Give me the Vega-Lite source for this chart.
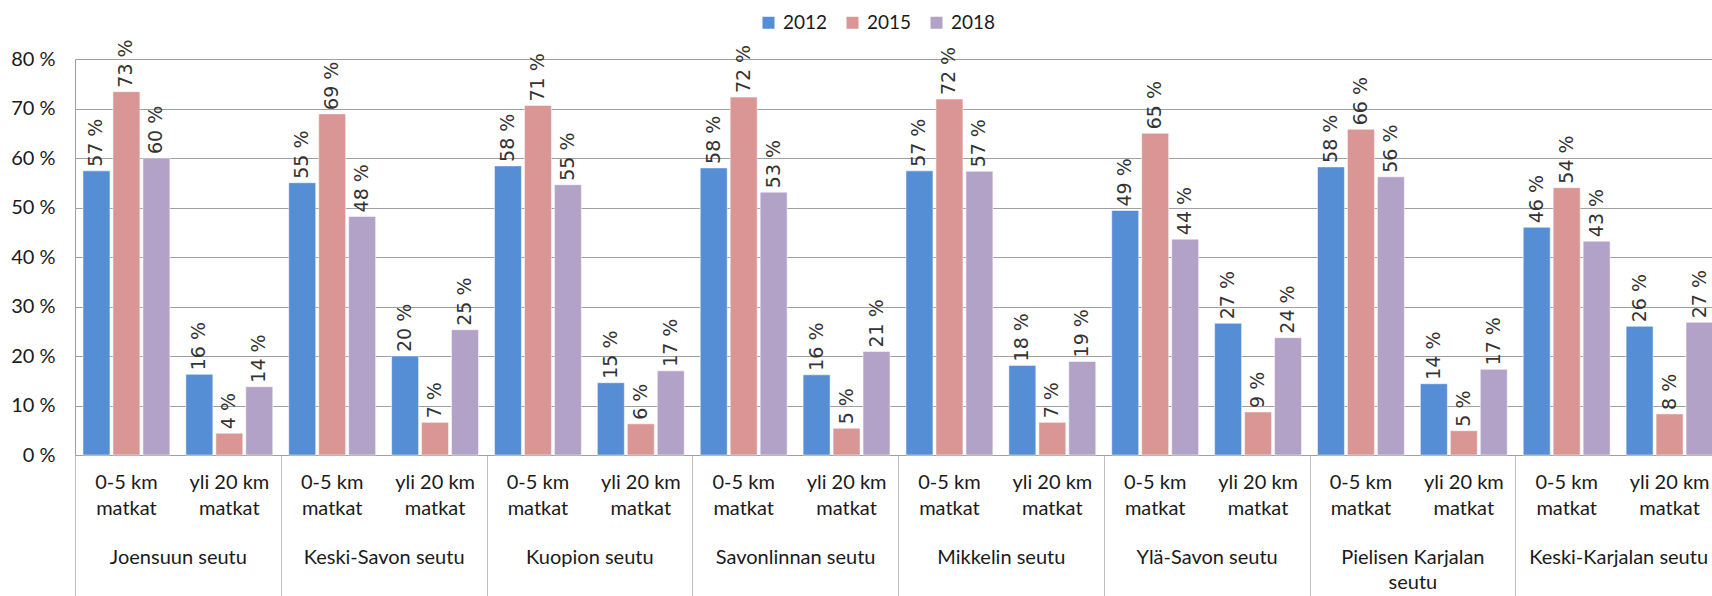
{
  "$schema": "https://vega.github.io/schema/vega-lite/v6.json",
  "width": 1637,
  "height": 396,
  "autosize": {"type": "none"},
  "padding": {"left": 75, "top": 59, "right": 0, "bottom": 141},
  "background": "white",
  "config": {"view": {"stroke": null}, "font": "Lato"},
  "data": {"values": [
    {"group": "Joensuun seutu", "slot": "Joensuun seutu|0-5", "year": "2012", "value": 57.4},
    {"group": "Joensuun seutu", "slot": "Joensuun seutu|0-5", "year": "2015", "value": 73.4},
    {"group": "Joensuun seutu", "slot": "Joensuun seutu|0-5", "year": "2018", "value": 60.0},
    {"group": "Joensuun seutu", "slot": "Joensuun seutu|yli20", "year": "2012", "value": 16.3},
    {"group": "Joensuun seutu", "slot": "Joensuun seutu|yli20", "year": "2015", "value": 4.4},
    {"group": "Joensuun seutu", "slot": "Joensuun seutu|yli20", "year": "2018", "value": 13.8},
    {"group": "Keski-Savon seutu", "slot": "Keski-Savon seutu|0-5", "year": "2012", "value": 55.0},
    {"group": "Keski-Savon seutu", "slot": "Keski-Savon seutu|0-5", "year": "2015", "value": 68.9},
    {"group": "Keski-Savon seutu", "slot": "Keski-Savon seutu|0-5", "year": "2018", "value": 48.2},
    {"group": "Keski-Savon seutu", "slot": "Keski-Savon seutu|yli20", "year": "2012", "value": 20.0},
    {"group": "Keski-Savon seutu", "slot": "Keski-Savon seutu|yli20", "year": "2015", "value": 6.6},
    {"group": "Keski-Savon seutu", "slot": "Keski-Savon seutu|yli20", "year": "2018", "value": 25.3},
    {"group": "Kuopion seutu", "slot": "Kuopion seutu|0-5", "year": "2012", "value": 58.4},
    {"group": "Kuopion seutu", "slot": "Kuopion seutu|0-5", "year": "2015", "value": 70.6},
    {"group": "Kuopion seutu", "slot": "Kuopion seutu|0-5", "year": "2018", "value": 54.6},
    {"group": "Kuopion seutu", "slot": "Kuopion seutu|yli20", "year": "2012", "value": 14.6},
    {"group": "Kuopion seutu", "slot": "Kuopion seutu|yli20", "year": "2015", "value": 6.3},
    {"group": "Kuopion seutu", "slot": "Kuopion seutu|yli20", "year": "2018", "value": 17.0},
    {"group": "Savonlinnan seutu", "slot": "Savonlinnan seutu|0-5", "year": "2012", "value": 58.0},
    {"group": "Savonlinnan seutu", "slot": "Savonlinnan seutu|0-5", "year": "2015", "value": 72.3},
    {"group": "Savonlinnan seutu", "slot": "Savonlinnan seutu|0-5", "year": "2018", "value": 53.1},
    {"group": "Savonlinnan seutu", "slot": "Savonlinnan seutu|yli20", "year": "2012", "value": 16.2},
    {"group": "Savonlinnan seutu", "slot": "Savonlinnan seutu|yli20", "year": "2015", "value": 5.4},
    {"group": "Savonlinnan seutu", "slot": "Savonlinnan seutu|yli20", "year": "2018", "value": 20.9},
    {"group": "Mikkelin seutu", "slot": "Mikkelin seutu|0-5", "year": "2012", "value": 57.4},
    {"group": "Mikkelin seutu", "slot": "Mikkelin seutu|0-5", "year": "2015", "value": 71.9},
    {"group": "Mikkelin seutu", "slot": "Mikkelin seutu|0-5", "year": "2018", "value": 57.3},
    {"group": "Mikkelin seutu", "slot": "Mikkelin seutu|yli20", "year": "2012", "value": 18.1},
    {"group": "Mikkelin seutu", "slot": "Mikkelin seutu|yli20", "year": "2015", "value": 6.6},
    {"group": "Mikkelin seutu", "slot": "Mikkelin seutu|yli20", "year": "2018", "value": 18.9},
    {"group": "Ylä-Savon seutu", "slot": "Ylä-Savon seutu|0-5", "year": "2012", "value": 49.4},
    {"group": "Ylä-Savon seutu", "slot": "Ylä-Savon seutu|0-5", "year": "2015", "value": 65.0},
    {"group": "Ylä-Savon seutu", "slot": "Ylä-Savon seutu|0-5", "year": "2018", "value": 43.6},
    {"group": "Ylä-Savon seutu", "slot": "Ylä-Savon seutu|yli20", "year": "2012", "value": 26.6},
    {"group": "Ylä-Savon seutu", "slot": "Ylä-Savon seutu|yli20", "year": "2015", "value": 8.7},
    {"group": "Ylä-Savon seutu", "slot": "Ylä-Savon seutu|yli20", "year": "2018", "value": 23.7},
    {"group": "Pielisen Karjalan seutu", "slot": "Pielisen Karjalan seutu|0-5", "year": "2012", "value": 58.2},
    {"group": "Pielisen Karjalan seutu", "slot": "Pielisen Karjalan seutu|0-5", "year": "2015", "value": 65.8},
    {"group": "Pielisen Karjalan seutu", "slot": "Pielisen Karjalan seutu|0-5", "year": "2018", "value": 56.2},
    {"group": "Pielisen Karjalan seutu", "slot": "Pielisen Karjalan seutu|yli20", "year": "2012", "value": 14.4},
    {"group": "Pielisen Karjalan seutu", "slot": "Pielisen Karjalan seutu|yli20", "year": "2015", "value": 4.9},
    {"group": "Pielisen Karjalan seutu", "slot": "Pielisen Karjalan seutu|yli20", "year": "2018", "value": 17.3},
    {"group": "Keski-Karjalan seutu", "slot": "Keski-Karjalan seutu|0-5", "year": "2012", "value": 46.0},
    {"group": "Keski-Karjalan seutu", "slot": "Keski-Karjalan seutu|0-5", "year": "2015", "value": 54.0},
    {"group": "Keski-Karjalan seutu", "slot": "Keski-Karjalan seutu|0-5", "year": "2018", "value": 43.2},
    {"group": "Keski-Karjalan seutu", "slot": "Keski-Karjalan seutu|yli20", "year": "2012", "value": 26.0},
    {"group": "Keski-Karjalan seutu", "slot": "Keski-Karjalan seutu|yli20", "year": "2015", "value": 8.3},
    {"group": "Keski-Karjalan seutu", "slot": "Keski-Karjalan seutu|yli20", "year": "2018", "value": 26.8}
  ]},
  "layer": [
    {
      "layer": [
        {
          "mark": {"type": "bar", "stroke": "#ffffff", "strokeWidth": 1, "strokeOpacity": 0.5},
          "encoding": {
            "x": {
              "field": "slot", "type": "nominal", "sort": null,
              "scale": {"range": [0, 1646], "paddingInner": 0, "paddingOuter": 0},
              "axis": {
                "title": null, "domain": false, "ticks": false, "grid": false,
                "labelAngle": 0, "labelPadding": 17, "labelFontSize": 20, "labelLineHeight": 26,
                "labelColor": "#1a1a1a", "labelFont": "Lato", "labelBaseline": "top",
                "labelExpr": "indexof(datum.value, '|yli') >= 0 ? ['yli 20 km', 'matkat'] : ['0-5 km', 'matkat']"
              }
            },
            "xOffset": {"field": "year", "type": "nominal", "scale": {"paddingInner": 0.1, "paddingOuter": 0.267}},
            "y": {
              "field": "value", "type": "quantitative",
              "scale": {"domain": [0, 80]},
              "axis": {
                "title": null, "values": [0, 10, 20, 30, 40, 50, 60, 70, 80],
                "labelExpr": "datum.value + ' %'", "grid": true, "gridColor": "#a0a0a0",
                "domain": true, "domainColor": "#a0a0a0", "ticks": false, "labelPadding": 20,
                "labelFontSize": 20, "labelColor": "#1a1a1a", "labelFont": "Lato"
              }
            },
            "color": {
              "field": "year", "type": "nominal",
              "scale": {"domain": ["2012", "2015", "2018"], "range": ["#558ED5", "#D99694", "#B3A2C7"]},
              "legend": {
                "orient": "none", "legendX": 684, "legendY": -46, "direction": "horizontal",
                "title": null, "symbolType": "square", "symbolSize": 144, "symbolStrokeWidth": 0,
                "labelFontSize": 19, "labelOffset": 5, "columnPadding": 15, "labelColor": "#1a1a1a",
                "labelFont": "Lato"
              }
            }
          }
        },
        {
          "mark": {
            "type": "text", "angle": 270, "align": "left", "baseline": "middle", "dx": 4,
            "font": "DejaVu Sans", "fontSize": 19, "fill": "#333333",
            "text": {"expr": "format(datum.value, '.0f') + ' %'"}
          },
          "encoding": {
            "x": {"field": "slot", "type": "nominal", "sort": null},
            "xOffset": {"field": "year", "type": "nominal"},
            "y": {"field": "value", "type": "quantitative"}
          }
        }
      ]
    },
    {
      "mark": {"type": "tick", "opacity": 0},
      "encoding": {
        "x": {
          "field": "group", "type": "nominal", "sort": null,
          "scale": {"range": [0, 1646], "paddingInner": 0, "paddingOuter": 0},
          "axis": {
            "title": null, "orient": "bottom", "domain": true, "domainColor": "#a0a0a0",
            "ticks": true, "tickBand": "extent", "tickSize": 141, "tickColor": "#bfbfbf",
            "labelPadding": -49, "labelFontSize": 20, "labelLineHeight": 25, "labelColor": "#1a1a1a",
            "labelFont": "Lato", "labelAngle": 0, "labelBaseline": "top", "labelLimit": 0, "grid": false,
            "labelExpr": "datum.value == 'Pielisen Karjalan seutu' ? ['Pielisen Karjalan', 'seutu'] : datum.value"
          }
        },
        "y": {"field": "value", "type": "quantitative"}
      }
    }
  ],
  "resolve": {"scale": {"x": "independent"}}
}
